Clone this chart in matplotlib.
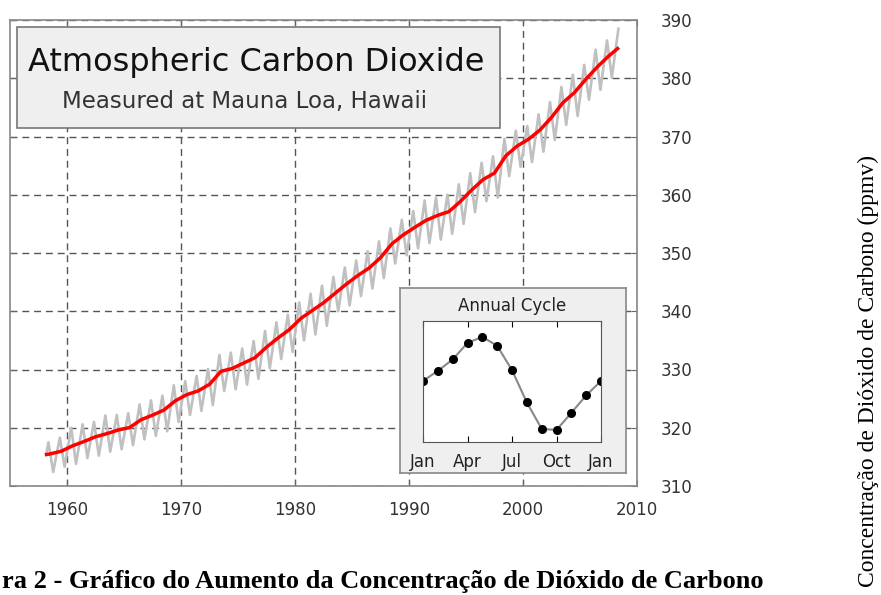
import numpy as np
import matplotlib
matplotlib.use('Agg')
import matplotlib.pyplot as plt
from matplotlib.patches import Rectangle

# trend (red)
trend_years = [1958.2, 1958.5] + [y + 0.5 for y in range(1959, 2008)] + [2008.3]
trend_ppm = [315.4, 315.5,
             315.97, 316.91, 317.64, 318.45, 318.99, 319.62, 320.04, 321.38, 322.16, 323.04,
             324.62, 325.68, 326.32, 327.45, 329.68, 330.18, 331.11, 332.04, 333.83, 335.40,
             336.84, 338.75, 340.11, 341.45, 343.05, 344.65, 346.12, 347.42, 349.19, 351.57,
             353.12, 354.39, 355.61, 356.45, 357.10, 358.83, 360.82, 362.61, 363.73, 366.70,
             368.38, 369.55, 371.14, 373.28, 375.80, 377.52, 379.80, 381.90, 383.79, 385.1]

# monthly record (gray): seasonal maxima (May) and minima (Oct)
years = list(range(1958, 2009))
may_peak = [317.5, 318.3, 320.0, 320.6, 321.0, 322.1, 322.2, 322.5, 324.0, 324.7,
            325.5, 327.3, 328.0, 328.9, 330.1, 332.5, 332.9, 333.6, 334.9, 336.6,
            338.1, 339.4, 341.5, 343.0, 344.4, 345.9, 347.5, 348.7, 350.3, 352.0,
            354.2, 355.7, 357.2, 359.0, 359.5, 360.0, 361.8, 363.7, 365.5, 366.6,
            369.6, 371.0, 371.8, 373.8, 375.9, 378.5, 380.6, 382.3, 384.9, 386.5, 388.5]
oct_low = [312.4, 313.3, 313.8, 314.8, 315.2, 315.9, 316.3, 317.0, 318.0, 318.6,
           319.4, 321.0, 322.2, 322.9, 323.9, 326.3, 326.6, 327.4, 328.4, 330.2,
           331.8, 333.0, 335.0, 336.0, 337.5, 340.0, 341.0, 342.6, 343.9, 345.7,
           348.2, 349.6, 350.8, 351.7, 352.3, 353.3, 355.0, 357.0, 358.9, 359.5,
           363.2, 364.8, 365.6, 367.4, 369.4, 372.0, 373.5, 376.3, 378.0, 380.1]
first_month = (1958.2, 315.7)

# annual cycle inset
months = list(range(13))
month_labels = ['Jan', 'Apr', 'Jul', 'Oct', 'Jan']
cycle = [0.15, 0.82, 1.58, 2.69, 3.09, 2.49, 0.87, -1.29, -3.05, -3.13, -1.98, -0.82, 0.15]

gx = [first_month[0]]
gy = [first_month[1]]
for i, yr in enumerate(years):
    gx.append(yr + 0.37)
    gy.append(may_peak[i])
    if i < len(oct_low):
        gx.append(yr + 0.79)
        gy.append(oct_low[i])

W, H = 881, 595
fig = plt.figure(figsize=(W / 100, H / 100), dpi=100)
fig.patch.set_facecolor('white')


def fx(px):
    return px / W


def fy(py):
    return 1 - py / H


ax = fig.add_axes([fx(10), fy(486), fx(637) - fx(10), fy(20) - fy(486)])
ax.plot(gx, gy, '-', color='#c0c0c0', lw=1.9, zorder=2, solid_joinstyle='round')
ax.plot(trend_years, trend_ppm, '-', color='#ff0000', lw=2.5, zorder=3)
ax.set_xlim(1955, 2010)
ax.set_ylim(310, 390)
ax.set_xticks([1960, 1970, 1980, 1990, 2000, 2010])
ax.set_yticks(range(310, 391, 10))
ax.grid(True, linestyle=(0, (5, 3.5)), color='#555555', lw=1)
ax.tick_params(direction='in', length=4, color='#666666', top=True, right=True,
               labelleft=False, labelright=True, labelsize=12, labelcolor='#333333')
ax.tick_params(axis='y', pad=17)
ax.tick_params(axis='x', pad=11)
for s in ax.spines.values():
    s.set_color('#888888')
    s.set_linewidth(1.2)

# title box
fig.patches.append(Rectangle((fx(17), fy(128)), fx(500) - fx(17), fy(27) - fy(128),
                             transform=fig.transFigure, facecolor='#efefef',
                             edgecolor='#777777', lw=1.2, zorder=5))
fig.text(fx(28), fy(62), 'Atmospheric Carbon Dioxide', fontsize=23, color='#111111',
         va='center', ha='left', zorder=6)
fig.text(fx(62), fy(101), 'Measured at Mauna Loa, Hawaii', fontsize=16.5, color='#333333',
         va='center', ha='left', zorder=6)

# inset
bg = fig.add_axes([fx(400), fy(473), fx(626) - fx(400), fy(288) - fy(473)])
bg.set_facecolor('#efefef')
bg.set_xticks([])
bg.set_yticks([])
for s in bg.spines.values():
    s.set_color('#888888')
    s.set_linewidth(1.2)

ins = fig.add_axes([fx(423), fy(442), fx(601) - fx(423), fy(321) - fy(442)])
ins.plot(months, cycle, '-o', color='#888888', lw=1.5, markersize=5.5,
         markerfacecolor='black', markeredgecolor='black')
ins.set_xlim(0, 12)
ins.set_ylim(-3.93, 4.15)
ins.set_xticks([0, 3, 6, 9, 12])
ins.set_xticklabels(month_labels)
ins.set_yticks([])
ins.tick_params(direction='in', length=4, top=True, labelsize=12, labelcolor='#222222', pad=8)
ins.set_title('Annual Cycle', fontsize=12, color='#222222', pad=7)
for s in ins.spines.values():
    s.set_color('#555555')

# page text around the chart (caption is cropped on the left in the source)
fig.text(fx(868), fy(371), 'Concentração de Dióxido de Carbono (ppmv)', rotation=90,
         family='Liberation Serif', fontsize=17, va='center', ha='center', color='black')
fig.text(fx(2), fy(588), 'ra 2 - Gráfico do Aumento da Concentração de Dióxido de Carbono',
         family='Liberation Serif', fontweight='bold', fontsize=19, va='baseline', ha='left',
         color='black')

fig.savefig('out.png', dpi=100)
